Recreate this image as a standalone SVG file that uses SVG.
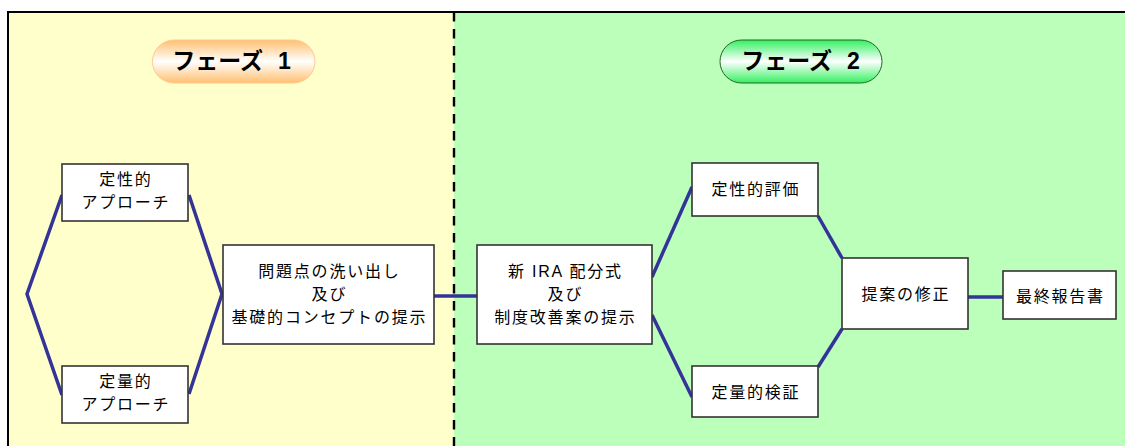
<svg xmlns="http://www.w3.org/2000/svg" width="1125" height="446" viewBox="0 0 1125 446">
<defs>
<linearGradient id="gOrange" x1="0" y1="0" x2="0" y2="1">
<stop offset="0" stop-color="#FFC070"/>
<stop offset="0.5" stop-color="#FFFFFF"/>
<stop offset="1" stop-color="#FFC070"/>
</linearGradient>
<linearGradient id="gGreen" x1="0" y1="0" x2="0" y2="1">
<stop offset="0" stop-color="#33F060"/>
<stop offset="0.5" stop-color="#FFFFFF"/>
<stop offset="1" stop-color="#33F060"/>
</linearGradient>
<style>
.box{fill:#FFFFFF;stroke:#333333;stroke-width:1.6}
.t{font-family:"Liberation Sans","Noto Sans CJK JP",sans-serif;font-size:16px;letter-spacing:1.8px;fill:#000;text-anchor:middle}
.ph{font-family:"Liberation Sans","Noto Sans CJK JP",sans-serif;font-size:23px;font-weight:bold;fill:#000;text-anchor:middle}
.c{fill:none;stroke:#333399;stroke-width:3.5;stroke-linejoin:miter}
</style>
</defs>
<g id="background">
<rect x="8" y="12" width="446" height="440" fill="#FFFFCC"/>
<rect x="454" y="12" width="680" height="440" fill="#BBFFBB"/>
<rect x="8" y="12" width="1130" height="450" fill="none" stroke="#000" stroke-width="2"/>
<line x1="454" y1="12" x2="454" y2="446" stroke="#000" stroke-width="2.4" stroke-dasharray="9.5,7.5"/>
</g>
<g id="connectors">
<polyline class="c" points="62,195 27,294 62,395"/>
<polyline class="c" points="189,195 222,294 189,394"/>
<line class="c" x1="434" y1="296" x2="477" y2="296"/>
<line class="c" x1="652" y1="277" x2="692" y2="187"/>
<line class="c" x1="652" y1="315" x2="692" y2="397"/>
<line class="c" x1="818" y1="216" x2="842" y2="258"/>
<line class="c" x1="842" y1="329" x2="818" y2="367"/>
<line class="c" x1="968" y1="297" x2="1003" y2="297"/>
</g>
<g id="phase1">
<rect x="152.5" y="40" width="162.5" height="43" rx="21.5" fill="url(#gOrange)" stroke="#FFC890" stroke-width="1"/>
<text class="ph" x="231.5" y="68.5">フェーズ<tspan dx="15">1</tspan></text>
</g>
<g id="phase2">
<rect x="720" y="40" width="162" height="43" rx="21.5" fill="url(#gGreen)" stroke="#226622" stroke-width="1"/>
<text class="ph" x="800.5" y="68.5">フェーズ<tspan dx="15">2</tspan></text>
</g>
<g id="n-qual-approach">
<rect class="box" x="62" y="164" width="126" height="57"/>
<text class="t" x="125.9" y="184.5">定性的</text>
<text class="t" x="125.9" y="207.5">アプローチ</text>
</g>
<g id="n-quant-approach">
<rect class="box" x="62" y="366" width="126" height="57"/>
<text class="t" x="125.9" y="386.5">定量的</text>
<text class="t" x="125.9" y="409.5">アプローチ</text>
</g>
<g id="n-problems">
<rect class="box" x="223" y="245" width="211" height="99"/>
<text class="t" x="329.4" y="276.5">問題点の洗い出し</text>
<text class="t" x="329.4" y="299.5">及び</text>
<text class="t" x="329.4" y="322.5">基礎的コンセプトの提示</text>
</g>
<g id="n-new-ira">
<rect class="box" x="477" y="245" width="175" height="99"/>
<text class="t" x="565.4" y="276.5">新 IRA 配分式</text>
<text class="t" x="565.4" y="299.5">及び</text>
<text class="t" x="565.4" y="322.5">制度改善案の提示</text>
</g>
<g id="n-qual-eval">
<rect class="box" x="692" y="163" width="126" height="53"/>
<text class="t" x="755.9" y="195">定性的評価</text>
</g>
<g id="n-quant-verify">
<rect class="box" x="692" y="366" width="126" height="51"/>
<text class="t" x="755.9" y="397.5">定量的検証</text>
</g>
<g id="n-revise">
<rect class="box" x="842" y="258" width="126" height="71"/>
<text class="t" x="905.9" y="300">提案の修正</text>
</g>
<g id="n-final">
<rect class="box" x="1003" y="271" width="113" height="48"/>
<text class="t" x="1060.4" y="302">最終報告書</text>
</g>
</svg>
